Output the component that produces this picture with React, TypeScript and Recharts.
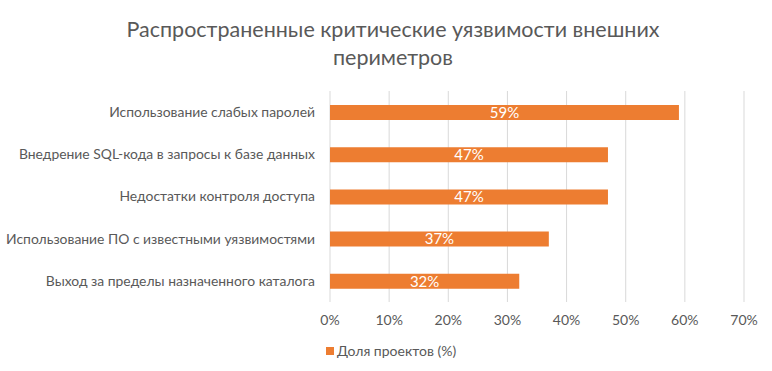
import { Bar, BarChart, CartesianGrid, LabelList, XAxis, YAxis } from "recharts";

const titleLines = ["Распространенные критические уязвимости внешних", "периметров"];
const categories = [
  "Использование слабых паролей",
  "Внедрение SQL-кода в запросы к базе данных",
  "Недостатки контроля доступа",
  "Использование ПО с известными уязвимостями",
  "Выход за пределы назначенного каталога",
];
const shares = [59, 47, 47, 37, 32];
const xTicks = [0, 10, 20, 30, 40, 50, 60, 70];
const seriesName = "Доля проектов (%)";

const rows = categories.map((name, i) => ({ name, share: shares[i] }));

const font = "Lato, 'Open Sans', sans-serif";
const text = "#595959";
const orange = "#ED7D31";
const pct = (v: any) => `${v}%`;

export default function App() {
  return (
    <div style={{ position: "absolute", left: 0, top: 0, width: 772, height: 371, background: "#fff", fontFamily: font }}>
      <div style={{ position: "absolute", left: 0, top: 15, width: 786, textAlign: "center", color: text, fontSize: 21.5, lineHeight: "28px" }}>
        {titleLines.map((l) => <div key={l}>{l}</div>)}
      </div>
      <BarChart
        width={772}
        height={371}
        data={rows}
        layout="vertical"
        margin={{ top: 91, right: 28, left: 0, bottom: 39 }}
      >
        <CartesianGrid horizontal={false} stroke="#d9d9d9" strokeWidth={1} />
        <XAxis
          type="number"
          domain={[0, 70]}
          ticks={xTicks}
          tickFormatter={pct}
          axisLine={false}
          tickLine={false}
          tickMargin={7}
          height={30}
          tick={{ fontSize: 14, fill: text, fontFamily: font }}
        />
        <YAxis
          type="category"
          dataKey="name"
          width={330}
          axisLine={false}
          tickLine={false}
          tickMargin={9}
          tick={{ fontSize: 13.9, fill: text, fontFamily: font }}
        />
        <Bar dataKey="share" fill={orange} barSize={15} isAnimationActive={false}>
          <LabelList dataKey="share" position="center" formatter={pct} fill="#fff" fontSize={15} fontFamily={font} />
        </Bar>
      </BarChart>
      <div style={{ position: "absolute", left: 0, top: 342, width: 782, display: "flex", justifyContent: "center", alignItems: "center", gap: 3, color: text, fontSize: 14 }}>
        <span style={{ display: "inline-block", width: 8, height: 8, background: orange }} />
        <span>{seriesName}</span>
      </div>
    </div>
  );
}
